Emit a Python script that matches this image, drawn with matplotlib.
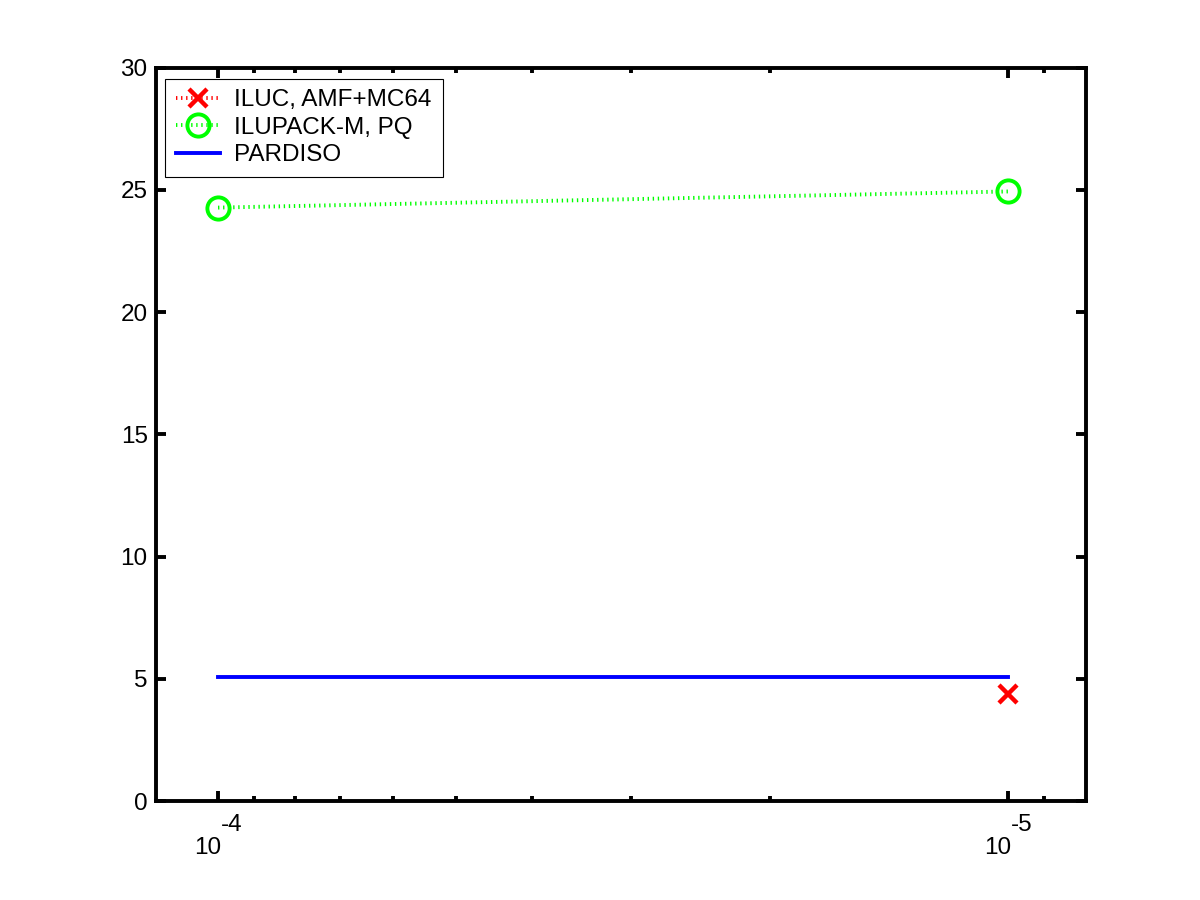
import numpy as np
import matplotlib
matplotlib.use("Agg")
import matplotlib.pyplot as plt
from matplotlib.ticker import FixedLocator, NullFormatter

plt.rcParams["font.family"] = ["Liberation Sans", "DejaVu Sans"]
plt.rcParams["font.size"] = 17.5

# data
tol = [1e-4, 1e-5]
iluc = [np.nan, 4.38]
ilupack = [24.27, 24.93]
pardiso = [5.08, 5.08]
labels = ["ILUC, AMF+MC64", "ILUPACK-M, PQ", "PARDISO"]
xlabels = [("10", "-4"), ("10", "-5")]
yticks = [0, 5, 10, 15, 20, 25, 30]

fig = plt.figure(figsize=(12, 9), dpi=100)
ax = fig.add_axes([0.13, 0.11, 0.775, 0.815])

dots = (0, (0.35, 0.95))
ax.plot(tol, iluc, color="#ff0000", ls=dots, lw=2.8, marker="x", ms=13, mew=3.2,
        label=labels[0])
ax.plot(tol, ilupack, color="#00ff00", ls=dots, lw=2.8, marker="o", ms=16, mew=2.8,
        mfc="none", label=labels[1])
ax.plot(tol, pardiso, color="#0000ff", ls="-", lw=2.8, label=labels[2])

ax.set_xscale("log")
ax.set_xlim(10 ** -3.9215, 10 ** -5.0987)
ax.set_ylim(0, 30)
ax.set_yticks(yticks)

ax.xaxis.set_major_locator(FixedLocator(tol))
ax.xaxis.set_minor_locator(FixedLocator([k * 1e-5 for k in range(2, 10)] + [9e-6]))
ax.xaxis.set_major_formatter(NullFormatter())
ax.xaxis.set_minor_formatter(NullFormatter())

for s in ax.spines.values():
    s.set_linewidth(2.8)
ax.tick_params(which="both", direction="in", top=True, right=True, width=2.8)
ax.tick_params(which="major", length=7, pad=6, labelsize=17.5)
ax.tick_params(which="minor", length=3.5)

# MATLAB-style "10" with the exponent raised beside it
for x, (base, exp) in zip(tol, xlabels):
    ax.annotate(base, xy=(x, 0), xycoords=("data", "axes fraction"),
                xytext=(2, -34), textcoords="offset points",
                ha="right", va="center", fontsize=17.5)
    ax.annotate(exp, xy=(x, 0), xycoords=("data", "axes fraction"),
                xytext=(2, -17), textcoords="offset points",
                ha="left", va="center", fontsize=17.5)

leg = ax.legend(loc="upper left", bbox_to_anchor=(0.0097, 0.985), borderaxespad=0,
                fancybox=False, framealpha=1, edgecolor="black", fontsize=17.5,
                handlelength=1.8, labelspacing=0.22, borderpad=0.45, handletextpad=0.6)
leg.get_frame().set_linewidth(0.8)

fig.savefig("out.png", dpi=100)
